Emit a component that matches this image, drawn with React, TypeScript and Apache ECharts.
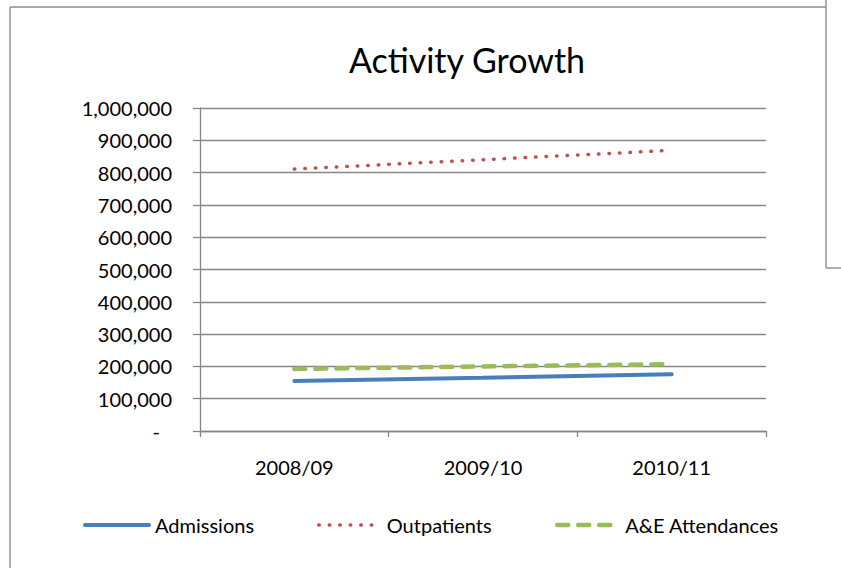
import { useEffect, useRef } from "react";
import * as echarts from "echarts";

// Financial years on the category axis
const years = ["2008/09", "2009/10", "2010/11"];

// Annual activity counts per series
const admissions = [155000, 165000, 175500];
const outpatients = [811000, 840000, 869000];
const aeAttendances = [192000, 200000, 207000];

// Value axis range
const yMin = 0;
const yMax = 1000000;
const yStep = 100000;

const FONT = "Lato";
const LABEL_SIZE = 20;
const BLUE = "#4a7ebb";
const RED = "#c0504d";
const GREEN = "#9bbb59";
const AXIS = "#868686";
const FRAME = "#8c8c8c";

const admissionsLine = { color: BLUE, width: 4, type: "solid", cap: "round" };
const outpatientsLine = { color: RED, width: 3.5, type: [0.5, 10], cap: "round" };
const aeLine = { color: GREEN, width: 4.5, type: [11, 10], cap: "round" };

export default function App() {
  const ref = useRef<HTMLDivElement>(null);

  useEffect(() => {
    const chart = echarts.init(ref.current!, null, { renderer: "svg" });

    const legendText = (pad: number) => ({
      fontFamily: FONT,
      fontSize: LABEL_SIZE,
      color: "#000",
      padding: [0, 0, 0, pad],
    });
    // legend entries show only the stroke, no marker
    const hiddenMarker = { color: "rgba(0,0,0,0)", borderWidth: 0, opacity: 0 };

    chart.setOption({
      animation: false,
      backgroundColor: "#ffffff",
      textStyle: { fontFamily: FONT },
      title: {
        text: "Activity Growth",
        left: 462,
        top: 37,
        textAlign: "center",
        textStyle: {
          fontFamily: FONT,
          fontSize: 34,
          fontWeight: "normal",
          color: "#000",
        },
      },
      grid: { left: 200, top: 108, right: 75, bottom: 137, containLabel: false },
      xAxis: {
        type: "category",
        data: years,
        boundaryGap: true,
        axisLine: { lineStyle: { color: AXIS, width: 1.3 } },
        axisTick: { show: true, length: 6, lineStyle: { color: AXIS, width: 1.3 } },
        axisLabel: { fontFamily: FONT, fontSize: LABEL_SIZE, color: "#000", margin: 26 },
        splitLine: { show: false },
      },
      yAxis: {
        type: "value",
        min: yMin,
        max: yMax,
        interval: yStep,
        axisLine: { show: true, lineStyle: { color: AXIS, width: 1.3 } },
        axisTick: { show: true, length: 7, lineStyle: { color: AXIS, width: 1.3 } },
        splitLine: { show: true, lineStyle: { color: AXIS, width: 1.3 } },
        axisLabel: {
          fontFamily: FONT,
          fontSize: LABEL_SIZE,
          color: "#000",
          margin: 28,
          formatter: (v: number) => (v === 0 ? "{dash|-}" : v.toLocaleString("en-US")),
          rich: {
            dash: { fontFamily: FONT, fontSize: LABEL_SIZE, color: "#000", padding: [0, 12, 0, 0] },
          },
        },
      },
      legend: [
        {
          data: ["Admissions"],
          left: 83,
          top: 515,
          padding: 0,
          itemWidth: 64,
          itemHeight: 14,
          itemStyle: hiddenMarker,
          lineStyle: admissionsLine,
          textStyle: legendText(1),
        },
        {
          data: ["Outpatients"],
          left: 317,
          top: 515,
          padding: 0,
          itemWidth: 55,
          itemHeight: 14,
          itemStyle: hiddenMarker,
          lineStyle: outpatientsLine,
          textStyle: legendText(8),
        },
        {
          data: ["A&E Attendances"],
          left: 555,
          top: 515,
          padding: 0,
          itemWidth: 56,
          itemHeight: 14,
          itemStyle: hiddenMarker,
          lineStyle: aeLine,
          textStyle: legendText(7),
        },
      ],
      series: [
        {
          name: "Admissions",
          type: "line",
          data: admissions,
          symbol: "none",
          itemStyle: { color: BLUE },
          lineStyle: admissionsLine,
        },
        {
          name: "Outpatients",
          type: "line",
          data: outpatients,
          symbol: "none",
          itemStyle: { color: RED },
          lineStyle: outpatientsLine,
        },
        {
          name: "A&E Attendances",
          type: "line",
          data: aeAttendances,
          symbol: "none",
          itemStyle: { color: GREEN },
          lineStyle: aeLine,
        },
      ],
      graphic: [
        { type: "line", shape: { x1: 10, y1: 7, x2: 10, y2: 568 }, style: { stroke: FRAME, lineWidth: 1.4 } },
        { type: "line", shape: { x1: 10, y1: 7, x2: 826, y2: 7 }, style: { stroke: FRAME, lineWidth: 1.4 } },
        { type: "line", shape: { x1: 826, y1: 0, x2: 826, y2: 268 }, style: { stroke: FRAME, lineWidth: 1.4 } },
        { type: "line", shape: { x1: 826, y1: 268, x2: 841, y2: 268 }, style: { stroke: FRAME, lineWidth: 1.4 } },
      ],
    });

    return () => chart.dispose();
  }, []);

  return (
    <div
      ref={ref}
      style={{ position: "fixed", left: 0, top: 0, width: 841, height: 568 }}
    />
  );
}
